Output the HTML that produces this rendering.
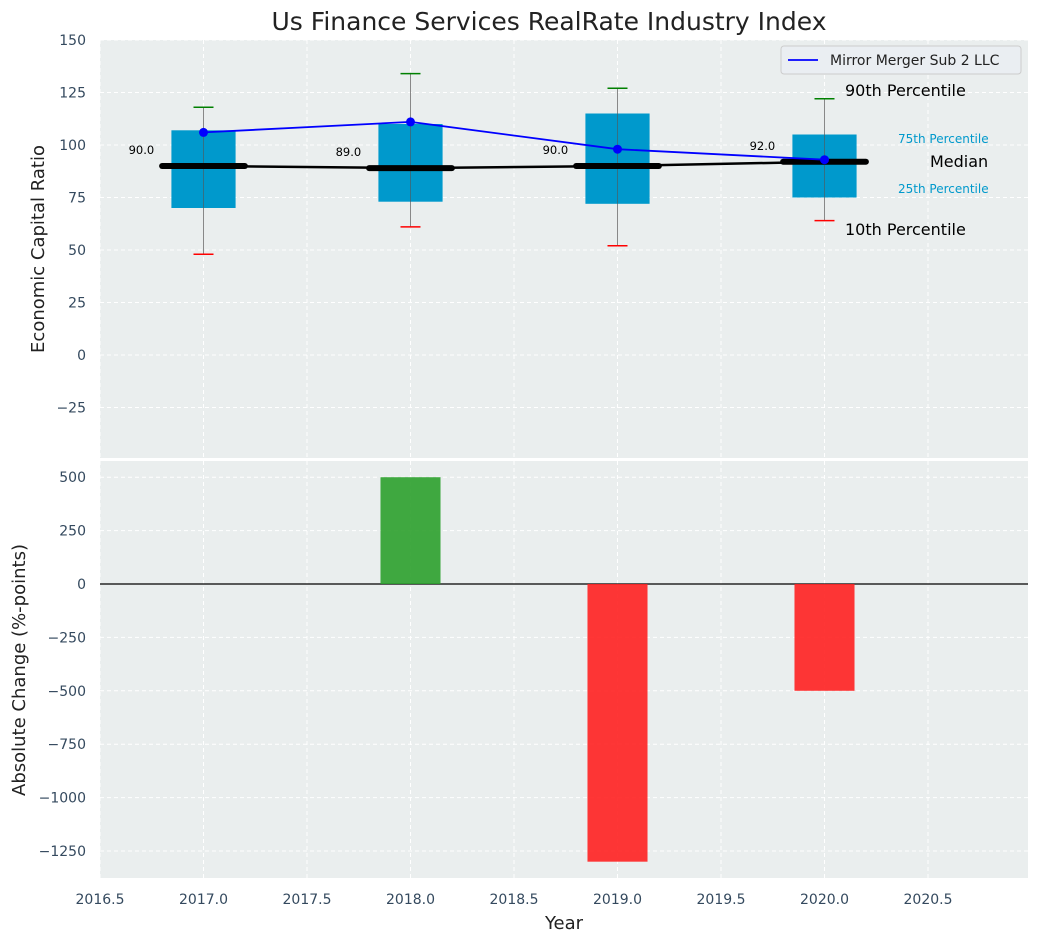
<!DOCTYPE html>
<html><head><meta charset="utf-8"><style>
body{margin:0;background:#fff;font-family:"Liberation Sans","DejaVu Sans",sans-serif;}
svg text{font-family:"DejaVu Sans","Liberation Sans",sans-serif;}
</style></head><body>
<svg id="c" width="1039" height="942" xmlns="http://www.w3.org/2000/svg"></svg>
<script>
const years=[2017,2018,2019,2020];
const p10=[48,61,52,64];
const p25=[70,73,72,75];
const med=[90,89,90,92];
const p75=[107,110,115,105];
const p90=[118,134,127,122];
const company=[106,111,98,93];
const changes=[0,500,-1300,-500];
const xTicks=[2016.5,2017,2017.5,2018,2018.5,2019,2019.5,2020,2020.5];
const yTopTicks=[150,125,100,75,50,25,0,-25];
const yBotTicks=[500,250,0,-250,-500,-750,-1000,-1250];

const NS="http://www.w3.org/2000/svg";
const svg=document.getElementById('c');
function el(t,a,p){const e=document.createElementNS(NS,t);for(const k in a)e.setAttribute(k,a[k]);(p||svg).appendChild(e);return e;}
const L=100,R=1028;
const X=v=>203.5+(v-2017)*207;
const T1=40,B1=458,T2=461,B2=878;
const Y1=v=>355-v*2.1;
const Y2=v=>584-v*0.2136;

let e=el('rect',{x:L,y:T1,width:R-L,height:B1-T1,fill:'#eaeeee'});

e=el('rect',{x:L,y:T2,width:R-L,height:B2-T2,fill:'#eaeeee'});


xTicks.forEach(v=>{
  el('line',{x1:X(v),x2:X(v),y1:T1,y2:B1,stroke:'#fff','stroke-dasharray':'4,3'});
  el('line',{x1:X(v),x2:X(v),y1:T2,y2:B2,stroke:'#fff','stroke-dasharray':'4,3'});
  const t=el('text',{x:X(v),y:904,'text-anchor':'middle','font-size':14,fill:'#34495e'});t.textContent=v.toFixed(1);
  
});
yTopTicks.forEach(v=>{
  el('line',{x1:L,x2:R,y1:Y1(v),y2:Y1(v),stroke:'#fff','stroke-dasharray':'4,3'});
  const t=el('text',{x:86,y:Y1(v)+5,'text-anchor':'end','font-size':14,fill:'#34495e'});t.textContent=v<0?'\u2212'+(-v):v;
  
});
yBotTicks.forEach(v=>{
  el('line',{x1:L,x2:R,y1:Y2(v),y2:Y2(v),stroke:'#fff','stroke-dasharray':'4,3'});
  const t=el('text',{x:86,y:Y2(v)+5,'text-anchor':'end','font-size':14,fill:'#34495e'});t.textContent=v<0?'\u2212'+(-v):v;
  
});

years.forEach((y,i)=>{
  const cx=X(y);
  el('line',{x1:cx,x2:cx,y1:Y1(p90[i]),y2:Y1(p10[i]),stroke:'#888','stroke-width':1});
  const b=el('rect',{x:X(y-0.155),y:Y1(p75[i]),width:X(y+0.155)-X(y-0.155),height:Y1(p25[i])-Y1(p75[i]),fill:'#0099cc'});
  
  el('line',{x1:cx,x2:cx,y1:Y1(p75[i]),y2:Y1(p25[i]),stroke:'#555','stroke-width':1,opacity:0.6});
  el('line',{x1:cx-10,x2:cx+10,y1:Y1(p90[i]),y2:Y1(p90[i]),stroke:'green','stroke-width':1.5});
  el('line',{x1:cx-10,x2:cx+10,y1:Y1(p10[i]),y2:Y1(p10[i]),stroke:'red','stroke-width':1.5});
  const m=el('line',{x1:X(y-0.2),x2:X(y+0.2),y1:Y1(med[i]),y2:Y1(med[i]),stroke:'#000','stroke-width':6,'stroke-linecap':'round'});
  
  const t=el('text',{x:X(y-0.3),y:Y1(med[i])-12,'text-anchor':'middle','font-size':11.5,fill:'#000'});t.textContent=med[i].toFixed(1);
  
});
let ml=el('polyline',{points:years.map((y,i)=>X(y)+','+Y1(med[i])).join(' '),fill:'none',stroke:'#000','stroke-width':2.5});

let cl=el('polyline',{points:years.map((y,i)=>X(y)+','+Y1(company[i])).join(' '),fill:'none',stroke:'blue','stroke-width':1.8});

years.forEach((y,i)=>{const c=el('circle',{cx:X(y),cy:Y1(company[i]),r:4.5,fill:'blue'});
});

[['90th Percentile',845,96,16,'#000'],['75th Percentile',898,143,12,'#0099cc'],['Median',930,167,16,'#000'],['25th Percentile',898,193,12,'#0099cc'],['10th Percentile',845,235,16,'#000']].forEach(a=>{
  const t=el('text',{x:a[1],y:a[2],'font-size':a[3],fill:a[4]});t.textContent=a[0];
  
});

const lg=el('g',{});
el('rect',{x:781,y:46,width:240,height:28,rx:3,fill:'#eaeef2',stroke:'#ccc'},lg);
el('line',{x1:788,x2:818,y1:60,y2:60,stroke:'blue','stroke-width':1.8},lg);
let lt=el('text',{x:830,y:65,'font-size':14,fill:'#222'},lg);lt.textContent='Mirror Merger Sub 2 LLC';

el('line',{x1:L,x2:R,y1:Y2(0),y2:Y2(0),stroke:'#000','stroke-width':1.2});
years.forEach((y,i)=>{const v=changes[i];if(!v)return;
  const b=el('rect',{x:X(y-0.145),width:X(y+0.145)-X(y-0.145),y:Math.min(Y2(v),Y2(0)),height:Math.abs(Y2(v)-Y2(0)),fill:v>0?'#2ca02c':'#ff2020',opacity:0.9});
  
});

let t=el('text',{x:549,y:30,'text-anchor':'middle','font-size':25,fill:'#222'});t.textContent='Us Finance Services RealRate Industry Index';

t=el('text',{x:0,y:0,'text-anchor':'middle','font-size':18,fill:'#222',transform:'translate(44,249) rotate(-90)'});t.textContent='Economic Capital Ratio';

t=el('text',{x:0,y:0,'text-anchor':'middle','font-size':18,fill:'#222',transform:'translate(25,670) rotate(-90)'});t.textContent='Absolute Change (%-points)';

t=el('text',{x:564,y:929,'text-anchor':'middle','font-size':18,fill:'#222'});t.textContent='Year';

</script>
</body></html>
